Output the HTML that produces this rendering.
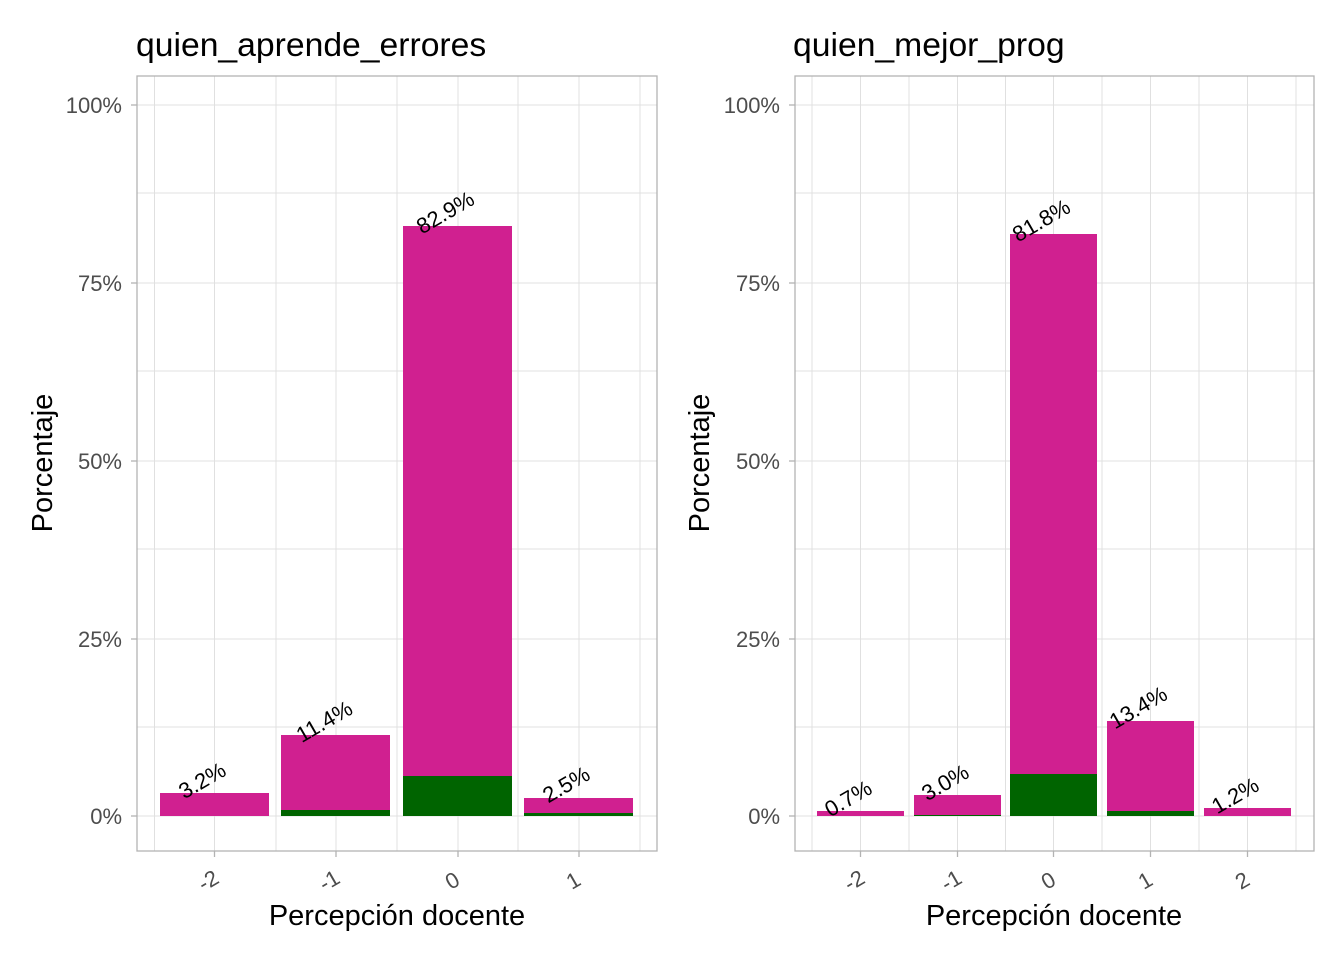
<!DOCTYPE html>
<html><head><style>body{margin:0;background:#fff}</style></head><body>
<svg width="1344" height="960" xmlns="http://www.w3.org/2000/svg" font-family="Liberation Sans, sans-serif">
<rect width="1344" height="960" fill="#fff"/>
<!-- LEFT PANEL -->
<g stroke="#e0e0e0" stroke-width="1">
<line x1="137" x2="657" y1="816" y2="816"/><line x1="137" x2="657" y1="727" y2="727"/><line x1="137" x2="657" y1="639" y2="639"/><line x1="137" x2="657" y1="549" y2="549"/><line x1="137" x2="657" y1="461" y2="461"/><line x1="137" x2="657" y1="371" y2="371"/><line x1="137" x2="657" y1="283" y2="283"/><line x1="137" x2="657" y1="193" y2="193"/><line x1="137" x2="657" y1="105" y2="105"/>
<line x1="154.5" x2="154.5" y1="76" y2="851"/><line x1="214.5" x2="214.5" y1="76" y2="851"/><line x1="276" x2="276" y1="76" y2="851"/><line x1="336" x2="336" y1="76" y2="851"/><line x1="397" x2="397" y1="76" y2="851"/><line x1="458" x2="458" y1="76" y2="851"/><line x1="518" x2="518" y1="76" y2="851"/><line x1="579" x2="579" y1="76" y2="851"/><line x1="640" x2="640" y1="76" y2="851"/>
</g>
<g fill="#D02090">
<rect x="160" y="793" width="109" height="23"/><rect x="281" y="735" width="109" height="81"/><rect x="403" y="226" width="109" height="590"/><rect x="524" y="798" width="109" height="18"/>
</g>
<g fill="#006400">
<rect x="281" y="810" width="109" height="6"/><rect x="403" y="776" width="109" height="40"/><rect x="524" y="813" width="109" height="3"/>
</g>
<rect x="137" y="76" width="520" height="775" fill="none" stroke="#b3b3b3" stroke-width="1.3"/>
<g stroke="#b3b3b3" stroke-width="1.3"><line x1="214.5" x2="214.5" y1="851" y2="857"/><line x1="336" x2="336" y1="851" y2="857"/><line x1="458" x2="458" y1="851" y2="857"/><line x1="579" x2="579" y1="851" y2="857"/>
<line x1="131" x2="137" y1="816" y2="816"/><line x1="131" x2="137" y1="639" y2="639"/><line x1="131" x2="137" y1="461" y2="461"/><line x1="131" x2="137" y1="283" y2="283"/><line x1="131" x2="137" y1="105" y2="105"/></g>
<g font-size="22" fill="#4d4d4d" text-anchor="end">
<text x="122" y="824">0%</text><text x="122" y="647">25%</text><text x="122" y="469">50%</text><text x="122" y="291">75%</text><text x="122" y="113">100%</text>
</g>
<g font-size="22" fill="#4d4d4d" text-anchor="middle">
<text transform="translate(212,887) rotate(-30)">-2</text><text transform="translate(333,887) rotate(-30)">-1</text><text transform="translate(456,887) rotate(-30)">0</text><text transform="translate(577,887) rotate(-30)">1</text>
</g>
<g font-size="22" fill="#000" text-anchor="middle">
<text transform="translate(206,787) rotate(-30)">3.2%</text><text transform="translate(328,728) rotate(-30)">11.4%</text><text transform="translate(449,219) rotate(-30)">82.9%</text><text transform="translate(570,791) rotate(-30)">2.5%</text>
</g>
<text x="136" y="56" font-size="33.7" fill="#000">quien_aprende_errores</text>
<text x="397" y="925" font-size="29" fill="#000" text-anchor="middle">Percepción docente</text>
<text transform="translate(52,463) rotate(-90)" font-size="29" fill="#000" text-anchor="middle">Porcentaje</text>

<!-- RIGHT PANEL -->
<g stroke="#e0e0e0" stroke-width="1">
<line x1="795" x2="1314" y1="816" y2="816"/><line x1="795" x2="1314" y1="727" y2="727"/><line x1="795" x2="1314" y1="639" y2="639"/><line x1="795" x2="1314" y1="549" y2="549"/><line x1="795" x2="1314" y1="461" y2="461"/><line x1="795" x2="1314" y1="371" y2="371"/><line x1="795" x2="1314" y1="283" y2="283"/><line x1="795" x2="1314" y1="193" y2="193"/><line x1="795" x2="1314" y1="105" y2="105"/>
<line x1="812" x2="812" y1="76" y2="851"/><line x1="860.5" x2="860.5" y1="76" y2="851"/><line x1="909" x2="909" y1="76" y2="851"/><line x1="957.5" x2="957.5" y1="76" y2="851"/><line x1="1005.5" x2="1005.5" y1="76" y2="851"/><line x1="1053.5" x2="1053.5" y1="76" y2="851"/><line x1="1102" x2="1102" y1="76" y2="851"/><line x1="1150.5" x2="1150.5" y1="76" y2="851"/><line x1="1199" x2="1199" y1="76" y2="851"/><line x1="1247.5" x2="1247.5" y1="76" y2="851"/><line x1="1296" x2="1296" y1="76" y2="851"/>
</g>
<g fill="#D02090">
<rect x="817" y="811" width="87" height="5"/><rect x="914" y="795" width="87" height="21"/><rect x="1010" y="234" width="87" height="582"/><rect x="1107" y="721" width="87" height="95"/><rect x="1204" y="808" width="87" height="8"/>
</g>
<g fill="#006400">
<rect x="914" y="815" width="87" height="1"/><rect x="1010" y="774" width="87" height="42"/><rect x="1107" y="811" width="87" height="5"/>
</g>
<rect x="795" y="76" width="519" height="775" fill="none" stroke="#b3b3b3" stroke-width="1.3"/>
<g stroke="#b3b3b3" stroke-width="1.3"><line x1="860.5" x2="860.5" y1="851" y2="857"/><line x1="957.5" x2="957.5" y1="851" y2="857"/><line x1="1053.5" x2="1053.5" y1="851" y2="857"/><line x1="1150.5" x2="1150.5" y1="851" y2="857"/><line x1="1247.5" x2="1247.5" y1="851" y2="857"/>
<line x1="789" x2="795" y1="816" y2="816"/><line x1="789" x2="795" y1="639" y2="639"/><line x1="789" x2="795" y1="461" y2="461"/><line x1="789" x2="795" y1="283" y2="283"/><line x1="789" x2="795" y1="105" y2="105"/></g>
<g font-size="22" fill="#4d4d4d" text-anchor="end">
<text x="780" y="824">0%</text><text x="780" y="647">25%</text><text x="780" y="469">50%</text><text x="780" y="291">75%</text><text x="780" y="113">100%</text>
</g>
<g font-size="22" fill="#4d4d4d" text-anchor="middle">
<text transform="translate(858,887) rotate(-30)">-2</text><text transform="translate(955,887) rotate(-30)">-1</text><text transform="translate(1052,887) rotate(-30)">0</text><text transform="translate(1149,887) rotate(-30)">1</text><text transform="translate(1246,887) rotate(-30)">2</text>
</g>
<g font-size="22" fill="#000" text-anchor="middle">
<text transform="translate(852,805) rotate(-30)">0.7%</text><text transform="translate(949,789) rotate(-30)">3.0%</text><text transform="translate(1045,227) rotate(-30)">81.8%</text><text transform="translate(1142,714) rotate(-30)">13.4%</text><text transform="translate(1239,802) rotate(-30)">1.2%</text>
</g>
<text x="793" y="56" font-size="33.7" fill="#000">quien_mejor_prog</text>
<text x="1054" y="925" font-size="29" fill="#000" text-anchor="middle">Percepción docente</text>
<text transform="translate(709,463) rotate(-90)" font-size="29" fill="#000" text-anchor="middle">Porcentaje</text>
</svg>
</body></html>
